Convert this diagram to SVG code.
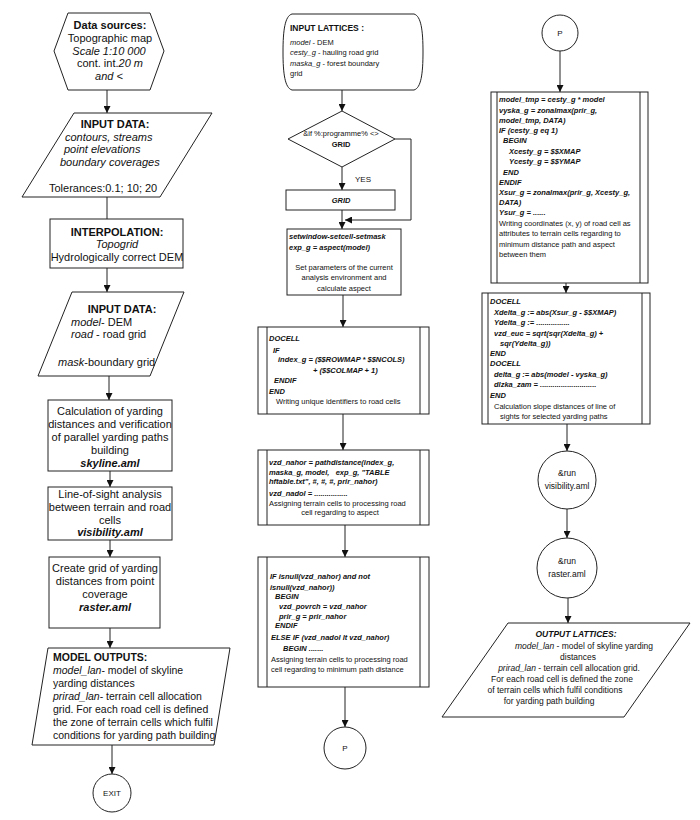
<svg xmlns="http://www.w3.org/2000/svg" width="700" height="820" viewBox="0 0 700 820">
<style>
.s{fill:#fff;stroke:#222;stroke-width:1}
.l{fill:none;stroke:#222;stroke-width:1}
text{font-family:"Liberation Sans",Arial,sans-serif;fill:#111}
.a{font-size:11px}
.m{font-size:10.5px}
.b{font-weight:bold}
.i{font-style:italic}
.c{font-size:7.5px;font-weight:bold;font-style:italic}
.r{font-size:7.5px}
.o{font-size:8.5px}
.ce{text-anchor:middle}
</style>
<defs>
<marker id="ah" viewBox="0 0 10 10" refX="10" refY="5" markerWidth="7" markerHeight="7" markerUnits="userSpaceOnUse" orient="auto">
<path d="M0,0 L10,5 L0,10 z" fill="#111"/>
</marker>
</defs>
<rect width="700" height="820" fill="#fff"/>

<g id="connectors">
<line class="l" x1="107" y1="90" x2="107" y2="113" marker-end="url(#ah)"/>
<line class="l" x1="107" y1="197" x2="107" y2="226" marker-end="url(#ah)"/>
<line class="l" x1="107" y1="268" x2="107" y2="292" marker-end="url(#ah)"/>
<line class="l" x1="109" y1="376" x2="109" y2="400" marker-end="url(#ah)"/>
<line class="l" x1="110" y1="471" x2="110" y2="487" marker-end="url(#ah)"/>
<line class="l" x1="110" y1="540" x2="110" y2="557" marker-end="url(#ah)"/>
<line class="l" x1="110" y1="628" x2="110" y2="648" marker-end="url(#ah)"/>
<line class="l" x1="112" y1="745" x2="112" y2="774" marker-end="url(#ah)"/>

<line class="l" x1="342" y1="90" x2="342" y2="111" marker-end="url(#ah)"/>
<line class="l" x1="342" y1="167" x2="342" y2="190" marker-end="url(#ah)"/>
<line class="l" x1="342" y1="210" x2="342" y2="229" marker-end="url(#ah)"/>
<polyline class="l" points="395,139 411,139 411,220 345,220" marker-end="url(#ah)"/>
<line class="l" x1="343" y1="295" x2="343" y2="327" marker-end="url(#ah)"/>
<line class="l" x1="343" y1="414" x2="343" y2="450" marker-end="url(#ah)"/>
<line class="l" x1="345" y1="525" x2="345" y2="557" marker-end="url(#ah)"/>
<line class="l" x1="345" y1="687" x2="345" y2="727" marker-end="url(#ah)"/>

<line class="l" x1="560" y1="51" x2="560" y2="92" marker-end="url(#ah)"/>
<line class="l" x1="566" y1="283" x2="566" y2="293" marker-end="url(#ah)"/>
<line class="l" x1="567" y1="424" x2="567" y2="451" marker-end="url(#ah)"/>
<line class="l" x1="567" y1="509" x2="567" y2="538" marker-end="url(#ah)"/>
<line class="l" x1="568" y1="598" x2="568" y2="623" marker-end="url(#ah)"/>
</g>

<g id="data-sources">
<polygon class="s" points="68,13 150,13 164,51 150,90 68,90 54,51"/>
<text class="a b ce" x="110" y="29">Data sources:</text>
<text class="a ce" x="110" y="42">Topographic map</text>
<text class="a i ce" x="109" y="55">Scale 1:10 000</text>
<text class="a ce" x="110" y="67">cont. int.<tspan class="i">20 m</tspan></text>
<text class="a i ce" x="109" y="80">and &lt;</text>
</g>

<g id="input-data-1">
<polygon class="s" points="74,113 212,113 160,197 22,197"/>
<text class="a b ce" x="115" y="128">INPUT DATA:</text>
<text class="a i" x="65" y="141">contours, streams</text>
<text class="a i" x="64" y="153">point elevations</text>
<text class="a i" x="60" y="166">boundary coverages</text>
<text class="a" x="49" y="192">Tolerances:0.1; 10; 20</text>
</g>

<g id="interpolation">
<rect class="s" x="50" y="219" width="133" height="49"/>
<text class="a b ce" x="117" y="236">INTERPOLATION:</text>
<text class="a i ce" x="117" y="248">Topogrid</text>
<text class="a ce" x="117" y="261">Hydrologically correct DEM</text>
</g>

<g id="input-data-2">
<polygon class="s" points="72,292 184,292 150,376 38,376"/>
<text class="a b ce" x="122" y="313">INPUT DATA:</text>
<text class="a" x="71" y="326"><tspan class="i">model</tspan>- DEM</text>
<text class="a" x="71" y="338"><tspan class="i">road</tspan> - road grid</text>
<text class="a" x="58" y="366"><tspan class="i">mask</tspan>-boundary grid</text>
</g>

<g id="skyline">
<rect class="s" x="48" y="400" width="124" height="71"/>
<text class="a ce" x="110" y="415">Calculation of yarding</text>
<text class="a ce" x="110" y="428">distances and verification</text>
<text class="a ce" x="110" y="441">of parallel yarding paths</text>
<text class="a ce" x="110" y="454">building</text>
<text class="a b i ce" x="110" y="467">skyline.aml</text>
</g>

<g id="visibility">
<rect class="s" x="48" y="487" width="124" height="53"/>
<text class="a ce" x="110" y="498">Line-of-sight analysis</text>
<text class="a ce" x="110" y="511">between terrain and road</text>
<text class="a ce" x="110" y="524">cells</text>
<text class="a b i ce" x="110" y="536">visibility.aml</text>
</g>

<g id="raster">
<rect class="s" x="49" y="557" width="111" height="71"/>
<text class="a ce" x="105" y="572">Create grid of yarding</text>
<text class="a ce" x="105" y="585">distances from point</text>
<text class="a ce" x="105" y="598">coverage</text>
<text class="a b i ce" x="105" y="611">raster.aml</text>
</g>

<g id="model-outputs">
<polygon class="s" points="48,648 230,648 214,745 32,745"/>
<text class="m b" x="53" y="661">MODEL OUTPUTS:</text>
<text class="m" x="53" y="674"><tspan class="i">model_lan</tspan>- model of skyline</text>
<text class="m" x="53" y="687">yarding distances</text>
<text class="m" x="53" y="700"><tspan class="i">prirad_lan</tspan>- terrain cell allocation</text>
<text class="m" x="53" y="713">grid. For each road cell is defined</text>
<text class="m" x="53" y="726">the zone of terrain cells which fulfil</text>
<text class="m" x="53" y="739">conditions for yarding path building</text>
</g>

<g id="exit">
<circle class="s" cx="112" cy="793" r="19"/>
<text class="ce" x="112" y="796" font-size="8">EXIT</text>
</g>

<g id="input-lattices">
<path class="s" d="M292,14 H414 C421,16 423,30 423,52 C423,74 421,88 414,90 H292 C285,88 283,74 283,52 C283,30 285,16 292,14 Z"/>
<text x="290" y="31" font-size="8.5" class="b">INPUT LATTICES :</text>
<text class="r" x="290" y="45"><tspan class="i">model</tspan> - DEM</text>
<text class="r" x="290" y="55"><tspan class="i">cesty_g</tspan>  - hauling road grid</text>
<text class="r" x="290" y="66"><tspan class="i">maska_g</tspan>  - forest boundary</text>
<text class="r" x="290" y="76">grid</text>
</g>

<g id="if-programme">
<polygon class="s" points="342,111 395,139 342,167 288,139"/>
<text class="r ce" x="341" y="136">&amp;if %:programme% &lt;&gt;</text>
<text class="ce b" x="341" y="147" font-size="7.5">GRID</text>
<text x="355" y="182" font-size="8">YES</text>
</g>

<g id="grid">
<rect class="s" x="286" y="190" width="109" height="20"/>
<text class="c ce" x="341" y="203">GRID</text>
</g>

<g id="setwindow">
<rect class="s" x="287" y="229" width="114" height="66"/>
<text class="c" x="289" y="239">setwindow-setcell-setmask</text>
<text class="c" x="289" y="250">exp_g = aspect(model)</text>
<text class="r ce" x="344" y="270">Set parameters of the current</text>
<text class="r ce" x="344" y="280">analysis environment and</text>
<text class="r ce" x="344" y="291">calculate aspect</text>
</g>

<g id="docell-index">
<rect class="s" x="258" y="327" width="171" height="87"/>
<line class="l" x1="267" y1="327" x2="267" y2="414"/>
<line class="l" x1="420" y1="327" x2="420" y2="414"/>
<text class="c" x="269" y="341">DOCELL</text>
<text class="c" x="273" y="353">IF</text>
<text class="c" x="278" y="362">index_g = ($$ROWMAP * $$NCOLS)</text>
<text class="c" x="313" y="373">+ ($$COLMAP + 1)</text>
<text class="c" x="274" y="383">ENDIF</text>
<text class="c" x="269" y="394">END</text>
<text class="r" x="276" y="404">Writing unique identifiers to road cells</text>
</g>

<g id="pathdistance">
<rect class="s" x="258" y="450" width="171" height="75"/>
<line class="l" x1="267" y1="450" x2="267" y2="525"/>
<line class="l" x1="420" y1="450" x2="420" y2="525"/>
<text class="c" x="269" y="465">vzd_nahor = pathdistance(index_g,</text>
<text class="c" x="269" y="475" xml:space="preserve">maska_g, model,   exp_g, "TABLE</text>
<text class="c" x="269" y="484">hftable.txt", #, #, #, prir_nahor)</text>
<text class="c" x="269" y="496">vzd_nadol = ................</text>
<text class="r" x="269" y="506">Assigning terrain cells to processing road</text>
<text class="r ce" x="340" y="515">cell regarding to aspect</text>
</g>

<g id="if-isnull">
<rect class="s" x="258" y="557" width="171" height="130"/>
<line class="l" x1="267" y1="557" x2="267" y2="687"/>
<line class="l" x1="420" y1="557" x2="420" y2="687"/>
<text class="c" x="270" y="579">IF isnull(vzd_nahor) and not</text>
<text class="c" x="270" y="590">isnull(vzd_nahor))</text>
<text class="c" x="275" y="599">BEGIN</text>
<text class="c" x="279" y="609">vzd_povrch = vzd_nahor</text>
<text class="c" x="279" y="619">prir_g = prir_nahor</text>
<text class="c" x="275" y="628">ENDIF</text>
<text class="c" x="271" y="640">ELSE IF (vzd_nadol lt vzd_nahor)</text>
<text class="c" x="283" y="651">BEGIN .......</text>
<text class="r" x="271" y="662">Assigning terrain cells to processing road</text>
<text class="r" x="271" y="672">cell regarding to minimum path distance</text>
</g>

<g id="p-out">
<circle class="s" cx="345" cy="748" r="21"/>
<text class="ce" x="345" y="751" font-size="8">P</text>
</g>

<g id="p-in">
<circle class="s" cx="560" cy="33" r="18"/>
<text class="ce" x="560" y="36" font-size="8">P</text>
</g>

<g id="zonalmax">
<rect class="s" x="491" y="92" width="157" height="191"/>
<line class="l" x1="497" y1="92" x2="497" y2="283"/>
<line class="l" x1="640" y1="92" x2="640" y2="283"/>
<text class="c" x="499" y="102">model_tmp = cesty_g * model</text>
<text class="c" x="499" y="113">vyska_g = zonalmax(prir_g,</text>
<text class="c" x="499" y="123">model_tmp, DATA)</text>
<text class="c" x="499" y="133">IF (cesty_g eq 1)</text>
<text class="c" x="503" y="143">BEGIN</text>
<text class="c" x="509" y="154">Xcesty_g = $$XMAP</text>
<text class="c" x="509" y="164">Ycesty_g = $$YMAP</text>
<text class="c" x="503" y="175">END</text>
<text class="c" x="499" y="185">ENDIF</text>
<text class="c" x="499" y="195">Xsur_g = zonalmax(prir_g, Xcesty_g,</text>
<text class="c" x="499" y="205">DATA)</text>
<text class="c" x="499" y="215">Ysur_g = ......</text>
<text class="r" x="499" y="226">Writing coordinates (x, y) of road cell as</text>
<text class="r" x="499" y="236">attributes to terrain cells regarding to</text>
<text class="r" x="499" y="247">minimum distance path and aspect</text>
<text class="r" x="499" y="257">between them</text>
</g>

<g id="docell-distance">
<rect class="s" x="482" y="293" width="168" height="131"/>
<line class="l" x1="488" y1="293" x2="488" y2="424"/>
<line class="l" x1="642" y1="293" x2="642" y2="424"/>
<text class="c" x="490" y="304">DOCELL</text>
<text class="c" x="494" y="315">Xdelta_g := abs(Xsur_g - $$XMAP)</text>
<text class="c" x="494" y="325">Ydelta_g := ................</text>
<text class="c" x="494" y="336">vzd_euc = sqrt(sqr(Xdelta_g) +</text>
<text class="c" x="500" y="346">sqr(Ydelta_g))</text>
<text class="c" x="490" y="356">END</text>
<text class="c" x="490" y="366">DOCELL</text>
<text class="c" x="494" y="377">delta_g := abs(model - vyska_g)</text>
<text class="c" x="494" y="387">dlzka_zam = ...........................</text>
<text class="c" x="490" y="398">END</text>
<text class="r" x="494" y="409">Calculation slope distances of line of</text>
<text class="r" x="500" y="419">sights for selected yarding paths</text>
</g>

<g id="run-visibility">
<circle class="s" cx="567" cy="480" r="29"/>
<text class="ce" x="567" y="476" font-size="8.5">&amp;run</text>
<text class="ce" x="567" y="489" font-size="8.5">visibility.aml</text>
</g>

<g id="run-raster">
<circle class="s" cx="567" cy="568" r="30"/>
<text class="ce" x="567" y="564" font-size="8.5">&amp;run</text>
<text class="ce" x="567" y="577" font-size="8.5">raster.aml</text>
</g>

<g id="output-lattices">
<polygon class="s" points="508,623 690,623 624,717 442,717"/>
<text class="o b i ce" x="576" y="637">OUTPUT LATTICES:</text>
<text class="o ce" x="584" y="649"><tspan class="i">model_lan</tspan>  - model of skyline yarding</text>
<text class="o ce" x="578" y="660">distances</text>
<text class="o ce" x="569" y="671"><tspan class="i">prirad_lan</tspan> - terrain cell allocation grid.</text>
<text class="o ce" x="562" y="682">For each road cell is defined the zone</text>
<text class="o ce" x="555" y="693">of terrain cells which fulfil conditions</text>
<text class="o ce" x="549" y="704">for yarding path building</text>
</g>
</svg>
